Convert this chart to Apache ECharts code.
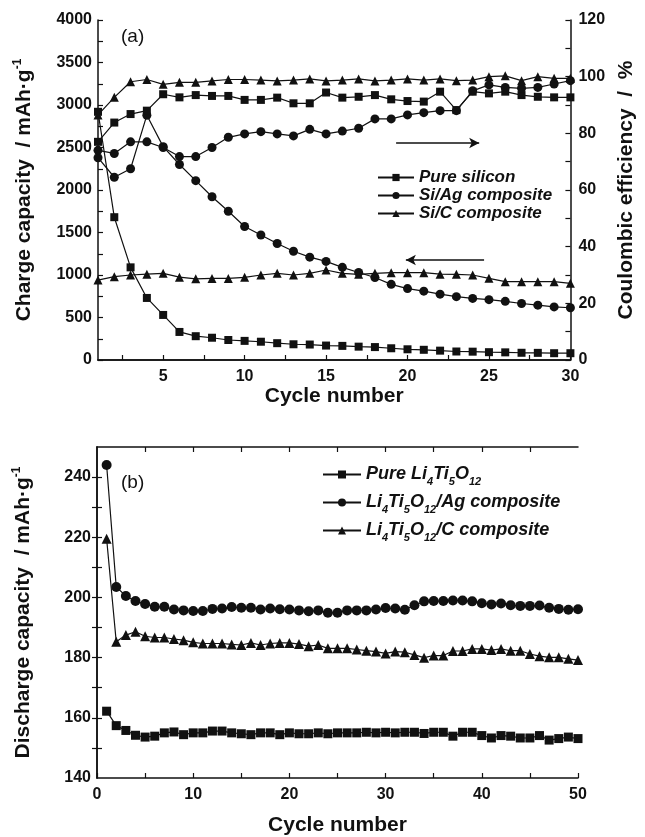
<!DOCTYPE html>
<html><head><meta charset="utf-8">
<script src="https://cdn.jsdelivr.net/npm/echarts@6/dist/echarts.min.js"></script>
<style>html,body{margin:0;padding:0;background:#fff}#c{width:645px;height:837px}</style>
</head><body><div id="c"></div>
<script>
// ---------- Panel (a) ----------
const cyclesA = [1,2,3,4,5,6,7,8,9,10,11,12,13,14,15,16,17,18,19,20,21,22,23,24,25,26,27,28,29,30];
const pureSiCap = [2920,1680,1090,730,530,330,280,262,235,225,215,198,185,182,170,166,157,152,138,126,120,110,100,98,92,90,85,84,80,80];
const siAgCap  = [2380,2150,2250,2880,2510,2300,2110,1920,1750,1570,1470,1370,1280,1210,1160,1090,1030,970,890,840,810,775,745,725,710,690,665,645,625,615];
const siCCap   = [940,980,1000,1010,1020,975,955,960,960,973,1000,1020,1000,1020,1059,1020,1008,1020,1027,1027,1027,1010,1008,1000,961,922,922,922,922,902];
const pureSiEff = [77,83.8,86.8,88,93.8,92.7,93.5,93.2,93.2,91.8,91.8,92.6,90.6,90.6,94.4,92.6,92.9,93.5,92,91.4,91.2,94.7,88.2,94.7,94.1,94.7,93.5,92.9,92.7,92.7];
const siAgEff  = [74,72.9,77,77,75,71.8,71.8,75,78.6,79.8,80.6,79.8,79.1,81.4,79.8,80.8,81.8,85.1,85.1,86.5,87.3,88,88,95,97.1,96.2,95.9,96.2,97.4,98.6];
const siCEff   = [86.5,92.7,98.2,99,97.3,98,98,98.5,99,99,98.8,98.5,98.8,99.2,98.5,98.8,99.2,98.5,98.8,99.2,98.8,99.2,98.6,98.8,100,100.3,98.6,100,99.4,99.4];
const namesA = ['Pure silicon','Si/Ag composite','Si/C composite'];
const xTicksA = [2.5,5,7.5,10,12.5,15,17.5,20,22.5,25,27.5,30];
const xLabelsA = [5,10,15,20,25,30];
// arrows (data coords): [x1, x2, y]
const arrowEff = [19.3, 24.4, 76.6];
const arrowCap = [24.7, 19.9, 1176];

// ---------- Panel (b) ----------
const cyclesB = [];
for (let i = 1; i <= 50; i++) cyclesB.push(i);
const pureLTO = [162.2,157.4,155.8,154.2,153.6,153.9,155,155.3,154.4,155,155,155.6,155.6,155,154.7,154.4,155,155,154.4,155,154.7,154.7,155,154.7,155,155,155,155.2,155,155.2,155,155.2,155.2,154.8,155.2,155.2,153.9,155.2,155.2,154.1,153.3,154.1,153.9,153.3,153.3,154.1,152.6,153.1,153.6,153.1];
const ltoAg = [244,203.5,200.5,198.8,197.8,196.9,196.9,196,195.7,195.5,195.5,196.2,196.3,196.8,196.6,196.6,196,196.3,196.1,196,195.7,195.4,195.7,194.9,194.9,195.7,195.7,195.7,196,196.5,196.3,195.9,197.4,198.7,198.8,198.8,199,199,198.7,198.1,197.7,198,197.4,197.2,197.2,197.3,196.6,196.2,195.9,196.1];
const ltoC = [219.5,185.3,187.5,188.6,187.1,186.7,186.7,186.2,185.8,185.1,184.7,184.7,184.7,184.4,184.2,184.9,184.2,184.7,184.9,184.9,184.5,183.8,184.2,183.1,183.1,183.1,182.7,182.3,182,181.4,182,181.8,180.9,180,180.7,180.7,182.2,182.2,182.9,182.9,182.5,182.9,182.3,182.3,181.2,180.5,180.1,180.1,179.6,179.2];
const namesB = ['Pure Li4Ti5O12','Li4Ti5O12/Ag composite','Li4Ti5O12/C composite'];
const namesBRich = [
  '{t|Pure Li}{s|4}{t|Ti}{s|5}{t|O}{s|12}',
  '{t|Li}{s|4}{t|Ti}{s|5}{t|O}{s|12}{t|/Ag composite}',
  '{t|Li}{s|4}{t|Ti}{s|5}{t|O}{s|12}{t|/C composite}'
];
const yTicksB = [150,160,170,180,190,200,210,220,230,240];
const yLabelsB = [140,160,180,200,220,240];
const xTicksBTop = [5,10,15,20,25,30,35,40,45];

const pair = (xs, ys) => xs.map((x, i) => [x, ys[i]]);
const INK = '#111';
const FONT = '"Liberation Sans", Arial, sans-serif';
const symbols = ['rect','circle','triangle'];
const symSizesA = [8, 9, 9];
const symSizesB = [9, 10, 10];

const axisLine = {show: true, lineStyle: {color: INK, width: 1.5}};
const tickIn = {show: true, inside: true, length: 5, lineStyle: {color: INK, width: 1.2}};
const minorIn = {show: true, splitNumber: 2, length: 5, lineStyle: {color: INK, width: 1.2}};
const labelStyle = {color: INK, fontSize: 16, fontWeight: 'bold', fontFamily: FONT, formatter: (v) => String(v)};
const TITLE_SIZE = 21;
const nameStyleRich = {
  color: INK, fontSize: TITLE_SIZE, fontWeight: 'bold', fontFamily: FONT,
  rich: {
    t: {fontSize: TITLE_SIZE, fontWeight: 'bold', fontFamily: FONT, color: INK, lineHeight: 22},
    sup: {fontSize: 12, fontWeight: 'bold', fontFamily: FONT, color: INK, lineHeight: 12, padding: [0,0,13,0]}
  }
};
const nameStylePlain = {color: INK, fontSize: TITLE_SIZE, fontWeight: 'bold', fontFamily: FONT};

function lineSeries(name, xs, ys, sym, size, xi, yi, extra) {
  return Object.assign({
    name, type: 'line', xAxisIndex: xi, yAxisIndex: yi,
    data: pair(xs, ys), symbol: sym, symbolSize: size,
    showSymbol: true, showAllSymbol: true,
    lineStyle: {color: INK, width: 1.2},
    itemStyle: {color: INK, borderWidth: 0},
    emphasis: {disabled: true}, z: 3
  }, extra || {});
}

const arrowMark = (a) => ({
  silent: true, symbol: ['none', 'arrow'], symbolSize: [8, 10],
  label: {show: false},
  lineStyle: {color: INK, width: 1.5, type: 'solid'},
  data: [[{coord: [a[0], a[2]]}, {coord: [a[1], a[2]]}]]
});

const series = [
  lineSeries(namesA[0], cyclesA, pureSiCap, symbols[0], symSizesA[0], 0, 0),
  lineSeries(namesA[1], cyclesA, siAgCap, symbols[1], symSizesA[1], 0, 0),
  lineSeries(namesA[2], cyclesA, siCCap, symbols[2], symSizesA[2], 0, 0, {markLine: arrowMark(arrowCap)}),
  lineSeries(namesA[0], cyclesA, pureSiEff, symbols[0], symSizesA[0], 0, 1),
  lineSeries(namesA[1], cyclesA, siAgEff, symbols[1], symSizesA[1], 0, 1),
  lineSeries(namesA[2], cyclesA, siCEff, symbols[2], symSizesA[2], 0, 1, {markLine: arrowMark(arrowEff)}),
  lineSeries(namesB[0], cyclesB, pureLTO, symbols[0], symSizesB[0], 2, 2),
  lineSeries(namesB[1], cyclesB, ltoAg, symbols[1], symSizesB[1], 2, 2),
  lineSeries(namesB[2], cyclesB, ltoC, symbols[2], symSizesB[2], 2, 2)
];

const option = {
  animation: false,
  backgroundColor: '#fff',
  textStyle: {fontFamily: FONT},
  grid: [
    {left: 98, top: 20, width: 480, height: 340},
    {left: 97, top: 447, width: 481, height: 333}
  ],
  legend: [
    {
      data: namesA, orient: 'vertical', left: 372, top: 164,
      itemWidth: 36, itemHeight: 9, itemGap: 1, selectedMode: false,
      textStyle: {color: INK, fontSize: 17, fontWeight: 'bold', fontStyle: 'italic', fontFamily: FONT}
    },
    {
      data: namesB, orient: 'vertical', left: 317, top: 457,
      itemWidth: 38, itemHeight: 10, itemGap: 3, selectedMode: false,
      formatter: (n) => namesBRich[namesB.indexOf(n)],
      textStyle: {
        color: INK, fontSize: 18, fontWeight: 'bold', fontStyle: 'italic', fontFamily: FONT,
        rich: {
          t: {fontSize: 18, fontWeight: 'bold', fontStyle: 'italic', fontFamily: FONT, color: INK, lineHeight: 18},
          s: {fontSize: 11, fontWeight: 'bold', fontStyle: 'italic', fontFamily: FONT, color: INK, lineHeight: 11, padding: [14,0,0,0]}
        }
      }
    }
  ],
  graphic: [
    {type: 'text', left: 121, top: 27, style: {text: '(a)', fontSize: 19, fontFamily: FONT, fill: INK}},
    {type: 'text', left: 121, top: 473, style: {text: '(b)', fontSize: 19, fontFamily: FONT, fill: INK}}
  ],
  xAxis: [
    {
      gridIndex: 0, type: 'value', position: 'bottom', min: 1, max: 30,
      axisLine, axisTick: Object.assign({}, tickIn, {customValues: xTicksA}),
      axisLabel: Object.assign({customValues: xLabelsA, margin: 9}, labelStyle),
      splitLine: {show: false},
      name: 'Cycle number', nameLocation: 'middle', nameGap: 23,
      nameTextStyle: nameStylePlain
    },
    {
      gridIndex: 0, type: 'value', position: 'top', min: 1, max: 30,
      axisLine, axisTick: {show: false}, axisLabel: {show: false}, splitLine: {show: false}
    },
    {
      gridIndex: 1, type: 'value', position: 'bottom', min: 0, max: 50, interval: 10,
      axisLine, axisTick: tickIn, minorTick: minorIn,
      axisLabel: Object.assign({margin: 9}, labelStyle),
      splitLine: {show: false}, minorSplitLine: {show: false},
      name: 'Cycle number', nameLocation: 'middle', nameGap: 37,
      nameTextStyle: nameStylePlain
    },
    {
      gridIndex: 1, type: 'value', position: 'top', min: 0, max: 50,
      axisLine, axisTick: Object.assign({}, tickIn, {customValues: xTicksBTop}),
      axisLabel: {show: false}, splitLine: {show: false}
    }
  ],
  yAxis: [
    {
      gridIndex: 0, type: 'value', position: 'left', min: 0, max: 4000, interval: 500,
      axisLine, axisTick: tickIn, minorTick: minorIn,
      axisLabel: Object.assign({margin: 6}, labelStyle),
      splitLine: {show: false}, minorSplitLine: {show: false},
      name: '{t|Charge capacity  / mAh·g}{sup|-1}', nameLocation: 'middle', nameGap: 63, nameRotate: 90,
      nameTextStyle: nameStyleRich
    },
    {
      gridIndex: 0, type: 'value', position: 'right', min: 0, max: 120, interval: 20,
      axisLine, axisTick: tickIn, minorTick: minorIn,
      axisLabel: Object.assign({margin: 8}, labelStyle),
      splitLine: {show: false}, minorSplitLine: {show: false},
      name: 'Coulombic efficiency  /  %', nameLocation: 'middle', nameGap: 40, nameRotate: 90,
      nameTextStyle: nameStylePlain
    },
    {
      gridIndex: 1, type: 'value', position: 'left', min: 140, max: 250, interval: 20,
      axisLine, axisTick: Object.assign({}, tickIn, {customValues: yTicksB}),
      axisLabel: Object.assign({margin: 6, customValues: yLabelsB}, labelStyle),
      splitLine: {show: false},
      name: '{t|Discharge capacity  / mAh·g}{sup|-1}', nameLocation: 'middle', nameGap: 63, nameRotate: 90,
      nameTextStyle: nameStyleRich
    },
    {
      gridIndex: 1, type: 'value', position: 'right', min: 140, max: 250, interval: 20,
      axisLine, axisTick: Object.assign({}, tickIn, {customValues: yTicksB}),
      axisLabel: {show: false}, splitLine: {show: false}
    }
  ],
  series
};

const chart = echarts.init(document.getElementById('c'), null, {renderer: 'canvas'});
chart.setOption(option);
</script>
</body></html>
